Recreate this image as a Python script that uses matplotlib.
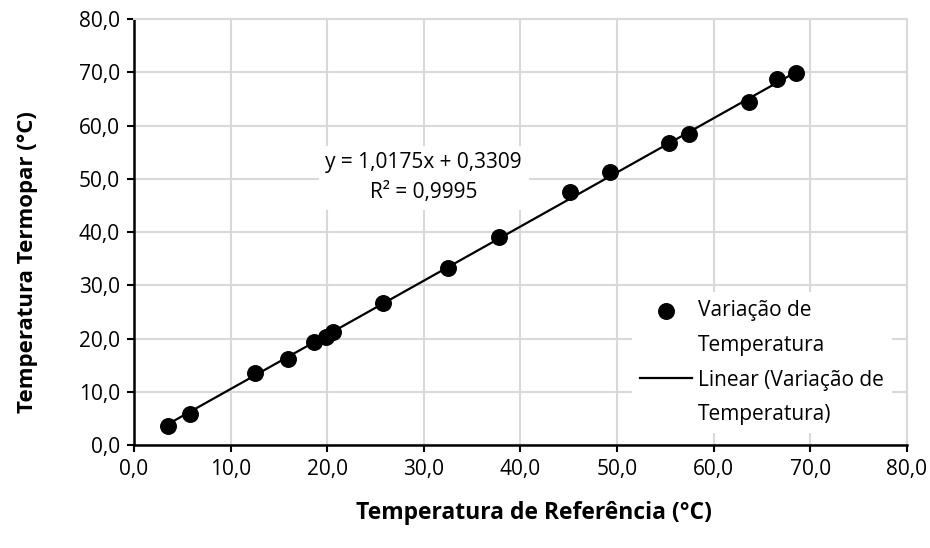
import numpy as np
import matplotlib
matplotlib.use('Agg')
import matplotlib.pyplot as plt
from matplotlib.lines import Line2D

# readings taken off the reference chart
ref_temp = [3.5, 5.8, 12.5, 16.0, 18.6, 19.9, 20.6, 25.8, 32.5, 37.8,
            45.1, 49.3, 55.4, 57.5, 63.7, 66.6, 68.5]
tc_temp = [3.5, 5.8, 13.5, 16.2, 19.3, 20.3, 21.2, 26.6, 33.3, 39.0,
           47.6, 51.2, 56.7, 58.4, 64.5, 68.7, 69.8]
slope = 1.0175
intercept = 0.3309
r2 = 0.9995
ticks = [0, 10, 20, 30, 40, 50, 60, 70, 80]

plt.rcParams['font.family'] = ['Open Sans', 'DejaVu Sans']

fig = plt.figure(figsize=(9.3, 5.48), dpi=100)
ax = fig.add_axes([0.144, 0.188, 0.831, 0.777])

grid_c = '#d9d9d9'
pts = ax.scatter(ref_temp, tc_temp, s=125, color='black', zorder=3)
xs = np.array([min(ref_temp), max(ref_temp)])
trend, = ax.plot(xs, slope * xs + intercept, color='black', lw=1.6, zorder=2)

ax.set_xlim(0, 80)
ax.set_ylim(0, 80)
ax.set_xticks(ticks)
ax.set_yticks(ticks)
fmt = lambda v: '{:.1f}'.format(v).replace('.', ',')
ax.set_xticklabels([fmt(t) for t in ticks])
ax.set_yticklabels([fmt(t) for t in ticks])
ax.tick_params(labelsize=15, length=5, width=1.5, pad=5, colors='black')
ax.tick_params(axis='x', pad=5)

ax.grid(True, color=grid_c, lw=1.5, zorder=0)
ax.set_axisbelow(True)
for s in ['top', 'right']:
    ax.spines[s].set_color(grid_c)
    ax.spines[s].set_linewidth(1.5)
for s in ['left', 'bottom']:
    ax.spines[s].set_linewidth(1.8)

ax.set_xlabel('Temperatura de Referência (°C)', fontsize=16.5,
              fontweight='bold')
ax.set_ylabel('Temperatura Termopar (°C)', fontsize=16,
              fontweight='bold')
ax.xaxis.set_label_coords(0.517, -0.16)
ax.xaxis.label.set_va('center')
ax.yaxis.set_label_coords(-0.138, 0.43)
ax.yaxis.label.set_va('center')

ax.text(30.0, 50.2,
        'y = {:.4f}x + {:.4f}\nR² = {:.4f}'.format(slope, intercept, r2)
        .replace('.', ','),
        ha='center', va='center', fontsize=15, linespacing=1.55,
        bbox=dict(facecolor='white', edgecolor='none', pad=5), zorder=4)

# excel-style legend: handle sits on the first line of each label
blank = Line2D([], [], linestyle='none')
leg = ax.legend([pts, blank, trend, blank],
                ['Variação de', 'Temperatura',
                 'Linear (Variação de', 'Temperatura)'],
                loc='upper left', bbox_to_anchor=(0.644, 0.359), fontsize=15,
                frameon=True, framealpha=1, edgecolor='none', fancybox=False,
                handlelength=2.5, handletextpad=0.3, labelspacing=0.65,
                borderaxespad=0, borderpad=0.4)

fig.savefig('out.png', dpi=100)
